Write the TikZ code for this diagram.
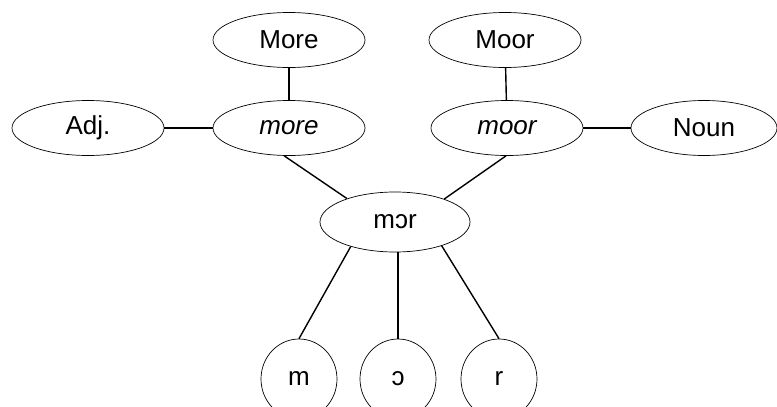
\documentclass[tikz,border=0pt]{standalone}
\usepackage{fontspec}
\setmainfont{Liberation Sans}
\usetikzlibrary{shapes.geometric}
\begin{document}
\begin{tikzpicture}[x=1pt,y=-1pt,
  wordbox/.style={ellipse,draw,line width=0.7pt,inner sep=0pt,minimum width=152pt,minimum height=55pt,font=\fontsize{26}{30}\selectfont},
  rootbox/.style={wordbox,minimum height=60pt,minimum width=150pt},
  segbox/.style={ellipse,draw,line width=0.7pt,inner sep=0pt,minimum width=76pt,minimum height=80pt,font=\fontsize{26}{30}\selectfont},
  link/.style={line width=1.4pt}]
\useasboundingbox (0,0) rectangle (777,407);
\node[wordbox] (More) at (289,40) {More};
\node[wordbox] (Moor) at (505,40) {Moor};
\node[wordbox] (Adj) at (88,128) {Adj.};
\node[wordbox] (more) at (289,128) {\itshape more};
\node[wordbox] (moor) at (507,128) {\itshape moor};
\node[wordbox,minimum width=146pt] (Noun) at (704,128) {Noun};
\node[rootbox] (mor) at (395,222) {mɔr};
\node[segbox] (m) at (299,379) {m};
\node[segbox] (o) at (398,379) {ɔ};
\node[segbox] (r) at (499,379) {r};
\draw[link] (More) -- (more);
\draw[link] (Adj) -- (more);
\draw[link] (Moor) -- (moor);
\draw[link] (moor) -- (Noun);
\draw[link] (more.260) -- (mor.154);
\draw[link] (moor.268) -- (mor.25);
\draw[link] (mor.209) -- (m.north);
\draw[link] (o.north |- mor.south) -- (o.north);
\draw[link] (mor.333) -- (r.north);
\end{tikzpicture}
\end{document}
